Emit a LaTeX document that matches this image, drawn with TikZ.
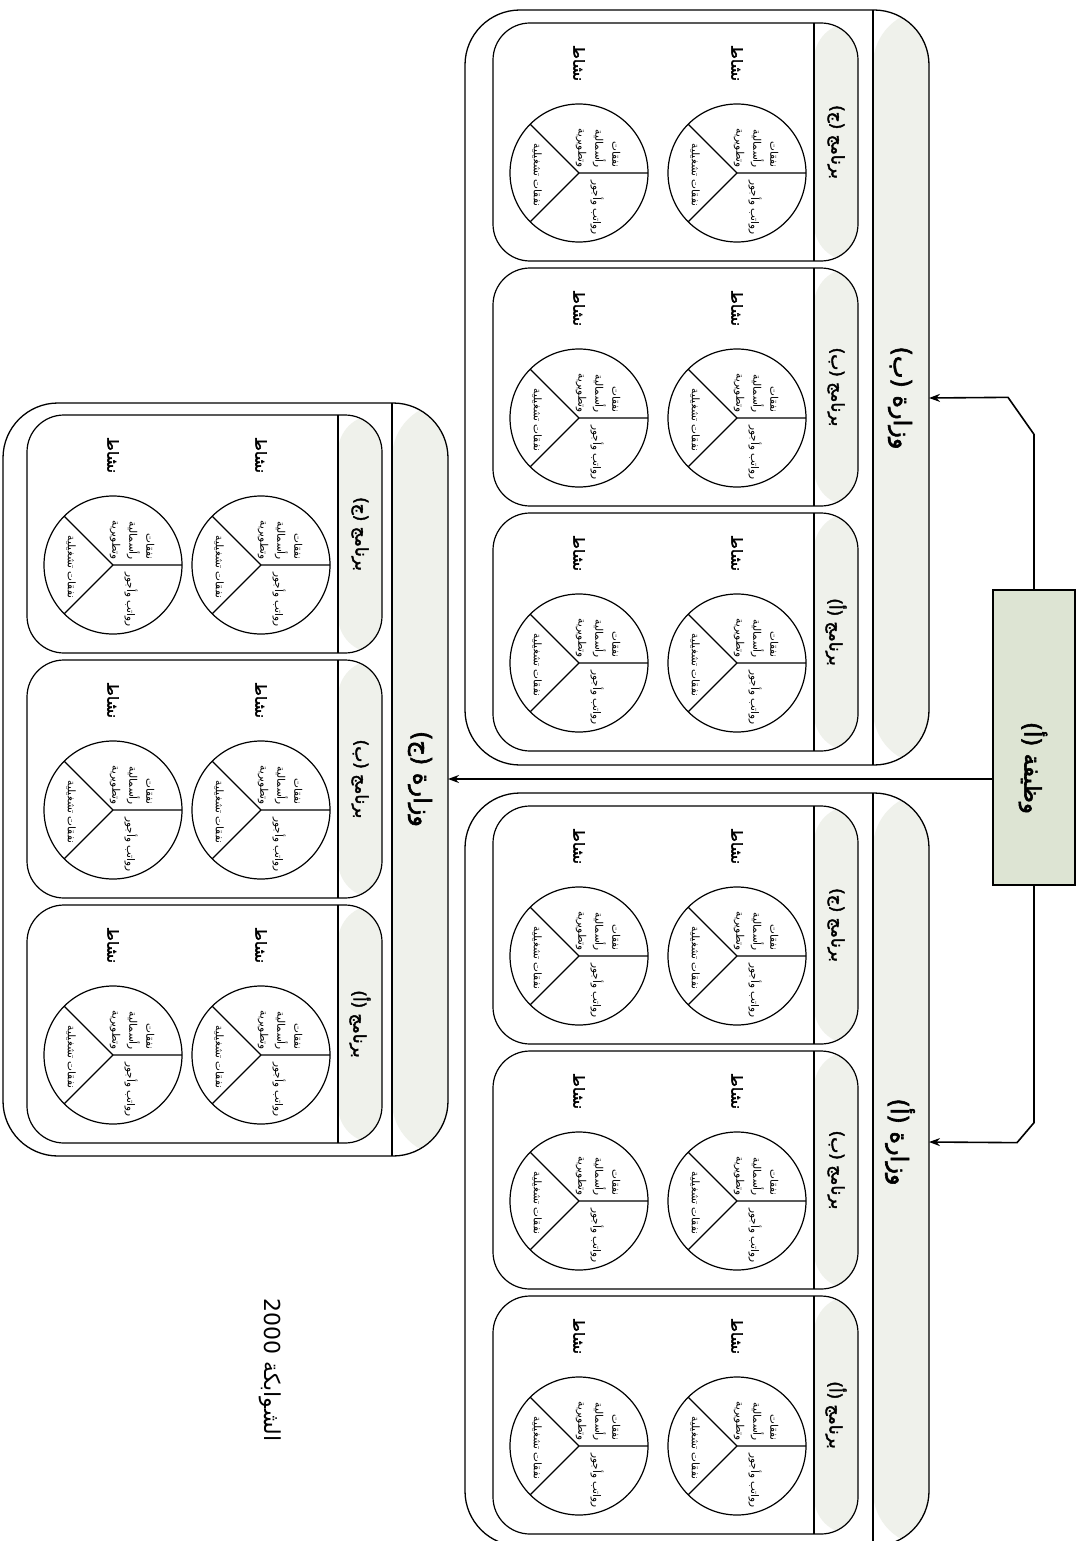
\documentclass[tikz,border=0pt]{standalone}
\usepackage{fontspec}
\setmainfont{Liberation Serif}
\newfontfamily\arabicfont[Script=Arabic]{DejaVu Sans}
\newfontfamily\arabicbold[Script=Arabic, FakeBold=2.5]{DejaVu Sans}
\TeXXeTstate=1
\usetikzlibrary{arrows.meta}
\definecolor{fboxfill}{RGB}{221,228,211}
\definecolor{hdrfill}{RGB}{239,241,235}
\tikzset{
  minbox/.style={draw, line width=1.3pt, rounded corners=55pt},
  progbox/.style={draw, line width=1.2pt, rounded corners=37pt},
  sepline/.style={draw, line width=1.2pt},
  circ/.style={draw, line width=1.2pt},
  rtxt/.style={rotate=-90, inner sep=1pt},
  smalltxt/.style={rtxt, font=\arabicfont\fontsize{10.5}{17}\selectfont},
  acttxt/.style={rtxt, font=\arabicbold\fontsize{15}{18}\selectfont},
  progtitle/.style={rtxt, font=\arabicbold\fontsize{17}{20}\selectfont},
  mintitle/.style={rtxt, font=\arabicbold\fontsize{24}{28}\selectfont},
  fbox/.style={draw, line width=1.3pt, fill=fboxfill, minimum width=82pt, minimum height=295pt, inner sep=0pt},
  conn/.style={draw, line width=1.6pt, -{Stealth[length=11pt,width=8pt]}},
}
\newcommand\actcircle[3]{%
  \draw[circ] (#1,#2) circle[radius=69];
  \draw[circ] (#1+69,#2) -- (#1,#2) -- (#1-48.8,#2-48.8);
  \draw[circ] (#1,#2) -- (#1-48.8,#2+48.8);
  \node[smalltxt, anchor=east, align=right] (#3a) at (#1+19,#2-4) {\beginR نفقات\endR\\\beginR رأسمالية\endR\\\beginR وتطويرية\endR};
  \node[smalltxt, anchor=west] (#3b) at (#1+18,#2+6) {\beginR رواتب وأجور\endR};
  \node[smalltxt] (#3c) at (#1-42,#2+2) {\beginR نفقات تشغيلية\endR};
  \node[acttxt] (#3d) at (#1,#2-110) {\beginR نشاط\endR};
}
\newcommand\prog[5]{%
  \draw[progbox, path picture={\fill[hdrfill] (#3-44,#2) rectangle (#3,#2+238);}] (#1,#2) rectangle (#3,#2+238);
  \draw[sepline] (#3-44,#2) -- (#3-44,#2+238);
  \node[progtitle] (#5t) at (#3-22,#2+119) {\beginR برنامج (#4)\endR};
  \actcircle{#3-121}{#2+150}{#5r}
  \actcircle{#1+86}{#2+150}{#5l}
}
\newcommand\ministry[4]{%
  \draw[minbox, path picture={\fill[hdrfill] (#3-56,#2) rectangle (#3,#4);}] (#1,#2) rectangle (#3,#4);
  \draw[sepline] (#3-56,#2) -- (#3-56,#4);
}
\begin{document}
\begin{tikzpicture}[x=1pt,y=-1pt]
\useasboundingbox[fill=white] (0,0) rectangle (1081,1541);
% ministries
\ministry{465}{10}{929}{765}
\ministry{465}{793}{929}{1546}
\ministry{3}{403}{448}{1156}
% programs of ministry B
\prog{493}{23}{858}{ج}{bj}
\prog{493}{268}{858}{ب}{bb}
\prog{493}{513}{858}{أ}{ba}
% programs of ministry A
\prog{493}{806}{858}{ج}{aj}
\prog{493}{1051}{858}{ب}{ab}
\prog{493}{1296}{858}{أ}{aa}
% programs of ministry C
\prog{27}{415}{382}{ج}{cj}
\prog{27}{660}{382}{ب}{cb}
\prog{27}{905}{382}{أ}{ca}
% ministry titles
\node[mintitle] (tB) at (900,398) {\beginR وزارة (ب)\endR};
\node[mintitle] (tA) at (900,1142) {\beginR وزارة (أ)\endR};
\node[mintitle] (tC) at (420,779) {\beginR وزارة (ج)\endR};
% function box
\node[fbox] (F) at (1034,737.5) {};
\node[rtxt, font=\arabicbold\fontsize{23}{26}\selectfont] (Ft) at (1033,768) {\beginR وظيفة (أ)\endR};
% connector targets
\coordinate (aB) at (929,398);
\coordinate (aA) at (929,1142);
\coordinate (aC) at (448,779);
\draw[conn] (F.north) -- ++(0,-155) -- ++(-26,-37) -- (aB);
\draw[conn] (F.south) -- ++(0,237) -- ++(-17,20) -- (aA);
\draw[conn] (F.west |- aC) -- (aC);
% source
\node[rtxt, font=\fontsize{28}{32}\selectfont] (src) at (270,1370) {{\arabicfont\fontsize{22}{26}\selectfont\beginR الشوابكة \beginL 2000\endL\endR}};
\end{tikzpicture}
\end{document}
